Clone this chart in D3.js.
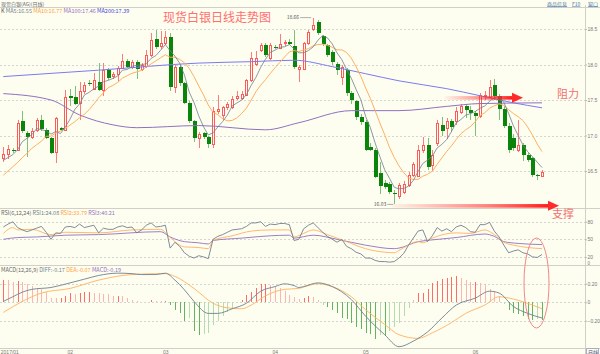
<!DOCTYPE html>
<html><head><meta charset="utf-8">
<script src="https://cdn.jsdelivr.net/npm/d3@7"></script>
<style>
html,body{margin:0;padding:0;background:#fefef0;}
svg{display:block;font-family:"Noto Sans CJK SC","DejaVu Sans",sans-serif;}
</style></head><body>
<svg id="c" width="600" height="354"></svg>
<script>
// ---------- DATA ----------
const openP = [16.69,16.74,16.80,16.79,17.20,17.03,16.97,17.08,17.22,17.08,16.97,16.76,17.10,17.08,17.55,17.54,17.45,17.62,17.74,17.66,
17.76,17.64,17.92,17.84,17.86,17.95,18.05,17.97,18.04,17.94,17.97,18.13,18.36,18.26,18.30,18.39,17.69,17.97,17.74,17.46,
17.20,16.96,17.03,16.98,16.88,17.34,17.29,17.40,17.41,17.53,17.53,17.57,17.78,18.01,18.20,18.28,18.09,18.25,18.24,18.30,
18.32,18.26,17.93,17.94,18.30,18.49,18.60,18.40,18.27,18.18,18.01,17.83,17.92,17.60,17.48,17.26,17.19,16.84,16.80,16.47,
16.33,16.31,16.19,16.14,16.21,16.30,16.44,16.44,16.80,16.87,16.58,16.89,17.15,17.10,17.20,17.20,17.33,17.41,17.36,17.31,
17.27,17.55,17.55,17.71,17.55,17.38,17.13,16.96,16.80,16.86,16.72,16.68,16.44,16.43];
const highP = [16.84,16.86,16.82,17.22,17.35,17.07,17.10,17.24,17.29,17.10,16.98,17.26,17.12,17.64,17.66,17.70,17.76,17.75,17.78,17.88,
18.02,18.02,17.95,17.90,17.98,18.15,18.08,18.07,18.07,18.02,18.20,18.44,18.49,18.47,18.47,18.44,17.99,18.00,17.76,17.48,
17.22,17.05,17.05,17.00,17.40,17.57,17.42,17.47,17.55,17.63,17.62,17.80,18.18,18.19,18.30,18.30,18.30,18.28,18.43,18.34,
18.36,18.48,18.00,18.32,18.49,18.66,18.63,18.42,18.29,18.20,18.03,18.00,17.95,17.63,17.50,17.30,17.22,16.90,16.83,16.63,
16.38,16.34,16.23,16.33,16.36,16.48,16.63,16.86,16.98,16.97,16.80,17.22,17.26,17.24,17.23,17.40,17.45,17.44,17.41,17.35,
17.60,17.62,17.78,17.80,17.58,17.42,17.17,17.02,17.22,16.90,16.75,16.70,16.46,16.52];
const lowP = [16.62,16.67,16.76,16.78,17.03,16.70,16.95,17.05,17.07,16.95,16.74,16.61,17.06,17.06,17.41,17.43,17.22,17.58,17.70,17.64,
17.62,17.55,17.78,17.80,17.75,17.93,17.95,17.93,17.80,17.91,17.95,18.10,18.22,18.22,18.27,17.62,17.60,17.70,17.44,17.18,
16.91,16.82,16.95,16.83,16.82,17.30,17.22,17.36,17.38,17.50,17.50,17.55,17.75,17.98,18.17,18.10,18.06,18.22,18.22,18.26,
18.27,17.93,17.75,17.92,18.28,18.47,18.41,18.26,18.10,18.00,17.85,17.71,17.55,17.45,17.22,17.15,16.78,16.78,16.40,16.18,
16.24,16.17,16.03,16.10,16.18,16.27,16.42,16.42,16.76,16.52,16.50,16.85,17.00,16.95,17.05,17.15,17.30,17.25,17.22,16.99,
17.24,17.50,17.53,17.50,17.22,17.10,16.76,16.78,16.77,16.64,16.62,16.42,16.37,16.41];
const closeP = [16.74,16.81,16.79,17.17,17.06,16.98,17.06,17.22,17.09,16.97,16.76,17.24,17.08,17.54,17.53,17.45,17.62,17.71,17.73,17.78,
17.64,17.92,17.81,17.87,17.95,18.05,17.97,18.04,17.93,17.99,18.13,18.34,18.24,18.30,18.39,17.69,17.97,17.74,17.46,17.20,
16.96,17.02,16.98,16.88,17.35,17.37,17.40,17.44,17.52,17.56,17.58,17.78,18.09,18.09,18.27,18.14,18.27,18.24,18.29,18.31,
18.29,17.97,17.96,18.30,18.46,18.55,18.44,18.29,18.13,18.04,17.92,17.97,17.60,17.50,17.26,17.19,16.80,16.80,16.42,16.29,
16.28,16.20,16.17,16.30,16.32,16.44,16.60,16.80,16.87,16.56,16.72,17.17,17.06,17.20,17.12,17.34,17.41,17.36,17.31,17.27,
17.57,17.57,17.69,17.55,17.38,17.14,16.79,16.82,16.87,16.72,16.66,16.44,16.43,16.49];
// first values of the moving averages (history not shown)
const ma5Lead = [16.65,16.69,16.73,16.80];
const ma10Lead = [16.44,16.50,16.56,16.62,16.69,16.75,16.82,16.87,16.92];
// long moving averages, read at sample candles [index, value]
const ma100Pts = [[0,17.59],[10,17.50],[16,17.29],[23,17.15],[28,17.11],[41,17.14],[55,17.08],[62,17.18],[73,17.35],[83,17.35],[93,17.41],[100,17.45],[113,17.46]];
const ma200Pts = [[0,17.83],[20,17.92],[41,18.02],[52,18.04],[61,18.06],[69,17.97],[76,17.87],[83,17.77],[93,17.66],[100,17.56],[107,17.46],[113,17.39]];
// RSI lines [index, value]
const rsi1Pts = [[0,71],[1,76],[2,80],[3,70],[4,66],[5,63],[6,66],[7,69],[8,72],[9,62],[10,50],[11,61],[12,60],[13,71],[14,72],[15,70],[16,76],[17,70],[18,72],[19,74],
[20,61],[21,69],[22,67],[23,67],[24,71],[25,73],[26,70],[27,71],[28,61],[29,66],[30,74],[31,78],[32,71],[33,72],[34,74],[35,35],[36,45],[37,38],[38,27],[39,21],
[40,18],[41,22],[42,20],[43,17],[44,50],[45,55],[46,58],[47,62],[48,66],[49,67],[50,68],[51,72],[52,78],[53,78],[54,80],[55,72],[56,76],[57,75],[58,77],[59,77],
[60,75],[61,48],[62,50],[63,68],[64,74],[65,78],[66,70],[67,62],[68,55],[69,50],[70,45],[71,50],[72,38],[73,34],[74,28],[75,25],[76,18],[77,18],[78,14],[79,12],
[80,12],[81,11],[82,12],[83,18],[84,26],[85,40],[86,52],[87,64],[88,66],[89,46],[90,56],[91,70],[92,64],[93,68],[94,63],[95,71],[96,74],[97,70],[98,63],[99,62],
[100,75],[101,75],[102,79],[103,64],[104,54],[105,40],[106,27],[107,30],[108,32],[109,27],[110,25],[111,20],[112,19],[113,24]];
const rsi2Pts = [[0,60],[2,70],[3,66],[6,67],[10,58],[13,62],[20,61],[27,66],[33,67],[35,53],[38,37],[41,36],[43,34],[44,48],[48,56],[52,64],[56,66],[60,66],[61,54],[63,60],
[65,66],[68,58],[72,46],[76,34],[80,28],[82,27],[83,31],[87,46],[88,44],[90,52],[95,61],[98,60],[101,66],[103,58],[105,45],[107,40],[110,36],[113,34]];
const rsi3Pts = [[0,50],[3,53],[7,54],[13,57],[20,58],[33,63],[35,54],[38,46],[41,44],[43,42],[44,48],[50,52],[56,56],[60,57],[61,52],[65,57],[70,50],[76,40],[82,34],[83,35],
[87,46],[90,49],[95,53],[101,59],[103,55],[105,46],[108,43],[113,41]];
// MACD histogram, one per candle
const macdHist = [0.24,0.236,0.215,0.23,0.22,0.20,0.18,0.157,0.146,0.114,0.05,0.045,0.045,0.07,0.10,0.095,0.10,0.11,0.11,0.105,
0.10,0.09,0.085,0.07,0.07,0.065,0.05,0.03,0.01,0.005,0.008,0.02,0.015,0.01,0.01,-0.025,-0.08,-0.115,-0.20,-0.17,
-0.31,-0.35,-0.34,-0.33,-0.25,-0.20,-0.15,-0.10,-0.06,-0.01,0.02,0.08,0.11,0.15,0.20,0.20,0.19,0.17,0.15,0.12,
0.08,0.06,0.035,0.045,0.07,0.06,0.03,-0.025,-0.05,-0.08,-0.115,-0.17,-0.185,-0.22,-0.27,-0.29,-0.33,-0.34,-0.40,-0.35,
-0.36,-0.31,-0.27,-0.22,-0.15,-0.06,0.02,0.10,0.10,0.145,0.21,0.225,0.25,0.26,0.27,0.28,0.26,0.24,0.22,0.22,
0.21,0.20,0.14,0.12,0.065,-0.015,-0.08,-0.115,-0.13,-0.15,-0.18,-0.19,-0.18,-0.19];
const diffPts = [[0,0.01],[2,0.06],[4,0.11],[6,0.14],[10,0.16],[14,0.21],[17,0.25],[20,0.29],[24,0.315],[27,0.31],[29,0.30],[32,0.30],[34,0.315],[36,0.24],[38,0.135],[40,0.01],[43,-0.12],[45,-0.12],[48,-0.07],[51,-0.01],
[54,0.12],[57,0.17],[59,0.20],[61,0.18],[62,0.16],[63,0.17],[66,0.21],[69,0.17],[73,0.03],[76,-0.15],[80,-0.35],[83,-0.48],[86,-0.42],[89,-0.32],[92,-0.17],[95,-0.03],[99,0.045],[102,0.12],[104,0.10],[107,-0.045],[110,-0.12],[113,-0.17]];
const deaPts = [[0,-0.11],[4,0.01],[8,0.10],[14,0.15],[20,0.24],[27,0.30],[34,0.31],[36,0.28],[40,0.15],[44,-0.01],[47,-0.06],[50,-0.07],[52,-0.03],[55,0.07],[59,0.14],[62,0.15],[63,0.165],[66,0.20],[69,0.17],[73,0.06],
[76,-0.08],[80,-0.24],[83,-0.35],[87,-0.39],[90,-0.33],[94,-0.22],[97,-0.12],[101,-0.03],[104,0.06],[107,0.035],[111,-0.03],[113,-0.07]];
// axis ticks
const mainTicks = [16.5,17.0,17.5,18.0,18.5];
const rsiTicks = [20,50,80];
const macdTicks = [-0.2,0,0.2];
const monthIdx = [0,14,34,57,76,99];
const monthLabels = ["2017/01","02","03","04","05","06"];
const hiIdx = 65, loIdx = 82;

// ---------- DRAW ----------
const svg = d3.select("#c");
const N = closeP.length;
const bg = "#fefef0";
svg.append("rect").attr("width",600).attr("height",354).attr("fill",bg);

const x = d3.scaleLinear().domain([0,N-1]).range([3.3,542]);
const yM = d3.scaleLinear().domain([16,18.5]).range([206.5,29]);
const yR = d3.scaleLinear().domain([0,100]).range([268.6,210]);
const yD = d3.scaleLinear().domain([-0.2,0.2]).range([320.8,283.8]);
const AX = 585;

const grid = svg.append("g").attr("stroke","#d6d6d0").attr("stroke-dasharray","2,2").attr("shape-rendering","crispEdges");
mainTicks.forEach(t=>grid.append("line").attr("x1",0).attr("x2",AX).attr("y1",Math.round(yM(t))+0.5).attr("y2",Math.round(yM(t))+0.5));
rsiTicks.forEach(t=>grid.append("line").attr("x1",0).attr("x2",AX).attr("y1",Math.round(yR(t))+0.5).attr("y2",Math.round(yR(t))+0.5));
macdTicks.forEach(t=>grid.append("line").attr("x1",0).attr("x2",AX).attr("y1",Math.round(yD(t))+0.5).attr("y2",Math.round(yD(t))+0.5));

// separators
const sep = svg.append("g").attr("stroke","#d0d0c8").attr("shape-rendering","crispEdges");
[7.5,208.5,265.5,348.5].forEach(y=>sep.append("line").attr("x1",0).attr("x2",600).attr("y1",y).attr("y2",y));
sep.append("line").attr("x1",AX+0.5).attr("x2",AX+0.5).attr("y1",5).attr("y2",354);

// right axes
function rightAxis(scale, ticks, fmt){
  const g = svg.append("g").attr("transform",`translate(${AX},0)`)
    .call(d3.axisRight(scale).tickValues(ticks).tickSize(2).tickFormat(fmt));
  g.select(".domain").remove();
  g.selectAll("line").attr("stroke","#bbb");
  g.selectAll("text").attr("font-size",5).attr("fill","#777").attr("x",2.5);
  return g;
}
rightAxis(yM, mainTicks, d3.format(".1f"));
rightAxis(yR, rsiTicks, d3.format("d"));
svg.append("text").attr("x",587.5).attr("y",265).attr("font-size",4.5).attr("fill","#777").text("0");
rightAxis(yD, macdTicks, d=> d===0?"0":d3.format(".2f")(d));

// x axis
const xa = svg.append("g").attr("transform","translate(0,348)")
  .call(d3.axisBottom(x).tickValues(monthIdx).tickSize(0).tickFormat((d,i)=>monthLabels[i]));
xa.select(".domain").remove();
xa.selectAll("text").attr("font-size",5).attr("fill","#777").attr("text-anchor","start").attr("dx",-3).attr("y",2);
svg.append("rect").attr("x",586.5).attr("y",348.5).attr("width",12).attr("height",5.5).attr("fill","none").attr("stroke","#aac");
svg.append("text").attr("x",588).attr("y",353.5).attr("font-size",5).attr("fill","#557").text("日线");

// header
svg.append("text").attr("x",1).attr("y",5.5).attr("font-size",5).attr("fill","#667").text("现货白银(AG)(日线)");
[["商品信息",547],["F10",572],["窗口",588]].forEach(([t,px])=>{
  svg.append("text").attr("x",px).attr("y",5.5).attr("font-size",5).attr("fill","#4477aa").attr("text-decoration","underline").text(t);
});

// legends
function legend(y, parts){
  const t = svg.append("text").attr("x",1).attr("y",y).attr("font-size",5.5);
  parts.forEach(([s,c])=>t.append("tspan").attr("fill",c).text(s+" "));
}
const cMA5="#6f7f8f", cMA10="#ffa040", cMA100="#9070c0", cMA200="#6a6af0";
const ma5 = closeP.map((_,i)=> i<4 ? ma5Lead[i] : d3.mean(closeP.slice(i-4,i+1)));
const ma10 = closeP.map((_,i)=> i<9 ? ma10Lead[i] : d3.mean(closeP.slice(i-9,i+1)));
legend(13,[["K","#555"],["MA5:"+ma5[N-1].toFixed(2),cMA5],["MA10:"+ma10[N-1].toFixed(2),cMA10],["MA100:"+ma100Pts[ma100Pts.length-1][1].toFixed(2),cMA100],["MA200:"+ma200Pts[ma200Pts.length-1][1].toFixed(2),"#4444dd"]]);
legend(215,[["RSI(6,12,24)","#666"],["RSI1:24.08",cMA5],["RSI2:33.79",cMA10],["RSI3:40.21",cMA100]]);
legend(272,[["MACD(12,26,9)","#666"],["DIFF:-0.17",cMA5],["DEA:-0.07",cMA10],["MACD:-0.19",cMA100]]);

// title
svg.append("text").attr("x",163).attr("y",22).attr("font-size",12).attr("fill","#ff6f6f").text("现货白银日线走势图");

// candles
const cg = svg.append("g").attr("shape-rendering","crispEdges");
for(let i=0;i<N;i++){
  const up = closeP[i] >= openP[i];
  const cx = Math.round(x(i));
  cg.append("line").attr("x1",cx+0.5).attr("x2",cx+0.5).attr("y1",yM(highP[i])).attr("y2",yM(lowP[i]))
    .attr("stroke", up ? "#ff7a7a" : "#7cc27c");
  const yt = yM(Math.max(openP[i],closeP[i])), yb = yM(Math.min(openP[i],closeP[i]));
  if(up){
    cg.append("rect").attr("x",cx-1+0.5).attr("y",Math.round(yt)+0.5).attr("width",2).attr("height",Math.max(1,Math.round(yb-yt)))
      .attr("fill",bg).attr("stroke","#ff5a5a").attr("stroke-width",1);
  } else {
    cg.append("rect").attr("x",cx-1).attr("y",yt).attr("width",4).attr("height",Math.max(1,yb-yt)).attr("fill","#0a840a");
  }
}

// MA lines
const lineIdx = (sc)=> d3.line().x((d,i)=>x(i)).y(d=>sc(d));
const linePts = (sc)=> d3.line().x(d=>x(d[0])).y(d=>sc(d[1])).curve(d3.curveMonotoneX);
svg.append("path").attr("d",linePts(yM)(ma200Pts)).attr("fill","none").attr("stroke","#7a7af2").attr("stroke-width",1);
svg.append("path").attr("d",linePts(yM)(ma100Pts)).attr("fill","none").attr("stroke",cMA100).attr("stroke-width",1);
svg.append("path").attr("d",lineIdx(yM)(ma10)).attr("fill","none").attr("stroke","#ffb060").attr("stroke-width",1);
svg.append("path").attr("d",lineIdx(yM)(ma5)).attr("fill","none").attr("stroke",cMA5).attr("stroke-width",0.8);

// hi / lo labels
svg.append("text").attr("x",x(hiIdx)-14).attr("y",yM(highP[hiIdx])+1.5).attr("font-size",5).attr("fill","#555").attr("text-anchor","end").text(highP[hiIdx].toFixed(2));
svg.append("line").attr("x1",x(hiIdx)-13).attr("x2",x(hiIdx)-2).attr("y1",yM(highP[hiIdx])).attr("y2",yM(highP[hiIdx])).attr("stroke","#777").attr("stroke-width",0.6);
svg.append("text").attr("x",x(loIdx)-8).attr("y",yM(lowP[loIdx])+1.5).attr("font-size",5).attr("fill","#555").attr("text-anchor","end").text(lowP[loIdx].toFixed(2));
svg.append("line").attr("x1",x(loIdx)-7).attr("x2",x(loIdx)-1).attr("y1",yM(lowP[loIdx])).attr("y2",yM(lowP[loIdx])).attr("stroke","#777").attr("stroke-width",0.6);

// RSI
svg.append("path").attr("d",linePts(yR)(rsi3Pts)).attr("fill","none").attr("stroke",cMA100).attr("stroke-width",0.9);
svg.append("path").attr("d",linePts(yR)(rsi2Pts)).attr("fill","none").attr("stroke","#ffb060").attr("stroke-width",0.9);
svg.append("path").attr("d",d3.line().x(d=>x(d[0])).y(d=>yR(d[1]))(rsi1Pts)).attr("fill","none").attr("stroke",cMA5).attr("stroke-width",0.9);

// MACD histogram
const hg = svg.append("g").attr("shape-rendering","crispEdges");
macdHist.forEach((v,i)=>{
  const prev = i>0 ? Math.abs(macdHist[i-1]) : 0;
  const weak = Math.abs(v) < prev;
  const col = v>=0 ? (weak?"#ffb4b4":"#ff6a6a") : (weak?"#b4dcb0":"#62b462");
  hg.append("rect").attr("x",Math.round(x(i))).attr("width",1)
    .attr("y",Math.min(yD(0),yD(v))).attr("height",Math.abs(yD(v)-yD(0))).attr("fill",col);
});
svg.append("path").attr("d",linePts(yD)(deaPts)).attr("fill","none").attr("stroke","#ffb060").attr("stroke-width",0.9);
svg.append("path").attr("d",linePts(yD)(diffPts)).attr("fill","none").attr("stroke",cMA5).attr("stroke-width",0.9);

// annotations: arrows, ellipse, labels
const defs = svg.append("defs");
const gr = defs.append("linearGradient").attr("id","gR").attr("x1","0").attr("x2","1").attr("y1","0").attr("y2","0");
gr.append("stop").attr("offset","0").attr("stop-color","#ff3030").attr("stop-opacity",0.05);
gr.append("stop").attr("offset","0.6").attr("stop-color","#ff3030").attr("stop-opacity",0.6);
gr.append("stop").attr("offset","1").attr("stop-color","#ff1a1a").attr("stop-opacity",1);
function arrow(x1,x2,y){
  svg.append("rect").attr("x",x1).attr("y",y-1.8).attr("width",x2-x1-10).attr("height",3.6).attr("fill","url(#gR)");
  svg.append("path").attr("d",`M${x2-11},${y-5}L${x2},${y}L${x2-11},${y+5}Z`).attr("fill","#ff2a2a");
}
arrow(445, 523, yM(17.53));
arrow(392, 559, yM(16.03)+1.5);
svg.append("text").attr("x",557).attr("y",98).attr("font-size",11).attr("fill","#f07070").text("阻力");
svg.append("text").attr("x",552).attr("y",218).attr("font-size",11).attr("fill","#f07070").text("支撑");
svg.append("ellipse").attr("cx",536.5).attr("cy",283).attr("rx",12.5).attr("ry",45).attr("fill","none").attr("stroke","#f08888").attr("stroke-width",1);
</script>
</body></html>
